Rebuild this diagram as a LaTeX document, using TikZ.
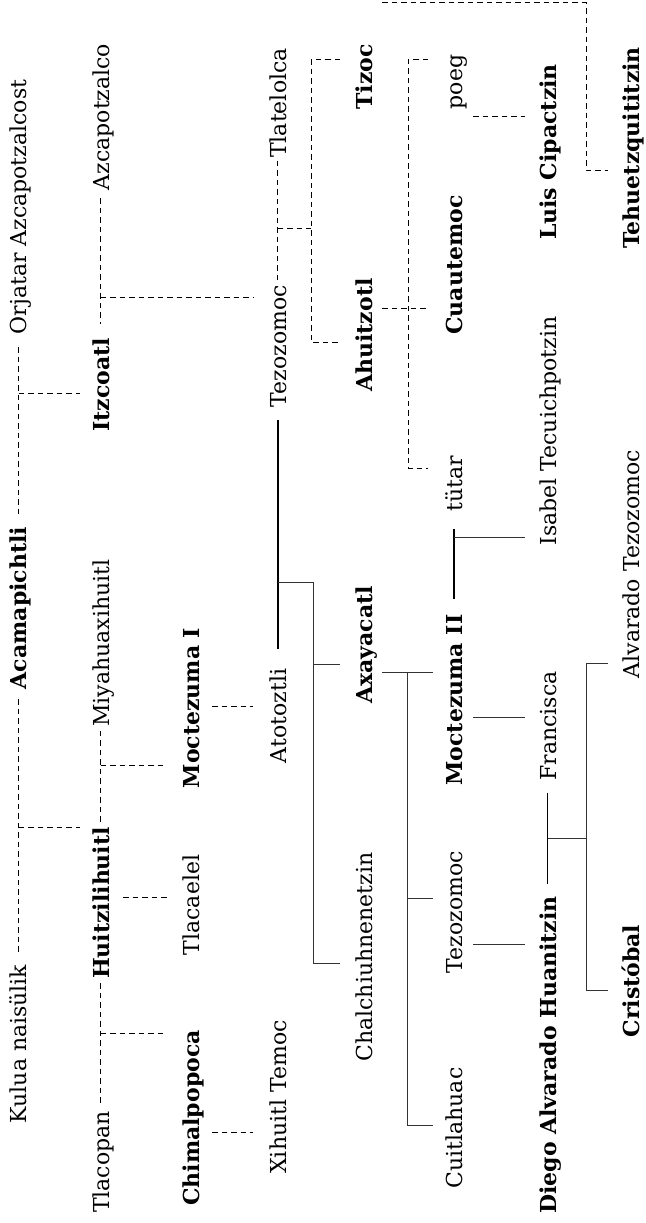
\documentclass[tikz,border=0pt]{standalone}
\usepackage{fontspec}
\setmainfont{DejaVu Serif}
\usetikzlibrary{calc}
\begin{document}
\begin{tikzpicture}[x=1pt,y=-1pt,
  nm/.style={rotate=90, anchor=base, inner sep=0pt, text height=16.7pt, text depth=0pt, font=\fontsize{22}{26}\selectfont},
  bd/.style={nm, font=\fontsize{22}{26}\selectfont\bfseries},
  dsh/.style={draw=black, line width=1pt, dash pattern=on 5.5pt off 4pt},
  sld/.style={draw=black!80, line width=1pt},
  thk/.style={draw=black, line width=1.9pt},
  med/.style={draw=black, line width=1.3pt}]
\fill[white] (0,0) rectangle (645,1223);
\useasboundingbox (0,0) rectangle (645,1223);
% column A
\node[nm] (orj) at (27,207) {Orjatar Azcapotzalcost};
\node[bd] (aca) at (27,608) {Acamapichtli};
\node[nm] (kul) at (27,1044) {Kulua naisülik};
% column B
\node[nm] (azc) at (109,117) {Azcapotzalco};
\node[bd] (itz) at (109,385) {Itzcoatl};
\node[nm] (miy) at (109,643) {Miyahuaxihuitl};
\node[bd] (hui) at (109,903) {Huitzilihuitl};
\node[nm] (tlp) at (109,1162) {Tlacopan};
% column C
\node[bd] (mo1) at (199,708) {Moctezuma I};
\node[nm] (tlc) at (199,905) {Tlacaelel};
\node[bd] (chi) at (199,1118) {Chimalpopoca};
% column D
\node[nm] (tlt) at (286,103) {Tlatelolca};
\node[nm] (tez) at (286,346) {Tezozomoc};
\node[nm] (ato) at (286,716) {Atotoztli};
\node[nm] (xih) at (286,1097) {Xihuitl Temoc};
% column E
\node[bd] (tiz) at (372,77) {Tizoc};
\node[bd] (ahu) at (372,335) {Ahuitzotl};
\node[bd] (axa) at (372,645) {Axayacatl};
\node[nm] (cha) at (372,957) {Chalchiuhnenetzin};
% column F
\node[nm] (poe) at (462,82) {poeg};
\node[bd] (cua) at (462,265) {Cuautemoc};
\node[nm] (tut) at (462,484) {tütar};
\node[bd] (mo2) at (462,700) {Moctezuma II};
\node[nm] (tz2) at (462,912) {Tezozomoc};
\node[nm] (cui) at (462,1128) {Cuitlahuac};
% column G
\node[bd] (lui) at (556,152) {Luis Cipactzin};
\node[nm] (isa) at (556,431) {Isabel Tecuichpotzin};
\node[nm] (fra) at (556,726) {Francisca};
\node[bd] (die) at (556,1055) {Diego Alvarado Huanitzin};
% column H
\node[bd] (teh) at (639,148) {Tehuetzquititzin};
\node[nm] (alv) at (639,564) {Alvarado Tezozomoc};
\node[bd] (cri) at (639,981) {Cristóbal};

% bracket corners
\coordinate (bA) at (311,60);  \coordinate (bB) at (311,342);
\coordinate (cA) at (408,60);  \coordinate (cB) at (408,468);
\coordinate (tA) at (586,3);   \coordinate (tB) at (586,170);
\coordinate (dA) at (313,582); \coordinate (dB) at (313,963);
\coordinate (eA) at (407,672); \coordinate (eB) at (407,1125);
\coordinate (fA) at (586,663); \coordinate (fB) at (586,990);

% dashed couples and children
\draw[dsh, shorten <=13pt, shorten >=10pt] (orj.west) -- (aca.east);
\draw[dsh, shorten >=12pt] (orj.west |- 0,393) -- (itz.north |- 0,393);
\draw[dsh, shorten <=10pt, shorten >=10pt] (aca.west) -- (kul.east);
\draw[dsh, shorten >=12pt] (aca.west |- 0,827) -- (hui.north |- 0,827);
\draw[dsh, shorten <=8pt, shorten >=14pt] (azc.west) -- (itz.east);
\draw[dsh, shorten >=16pt] (azc.west |- 0,297) -- (tez.north |- 0,297);
\draw[dsh, shorten <=4pt, shorten >=4pt] (miy.west) -- (hui.east);
\draw[dsh, shorten >=15pt] (miy.west |- 0,765) -- (mo1.north |- 0,765);
\draw[dsh, shorten <=4pt, shorten >=6pt] (hui.west) -- (tlp.east);
\draw[dsh, shorten >=15pt] (hui.west |- 0,1033) -- (chi.north |- 0,1033);
\draw[dsh, shorten <=14pt, shorten >=15pt] (hui.south |- 0,897) -- (tlc.north |- 0,897);
\draw[dsh, shorten <=13pt, shorten >=16pt] (mo1.south |- 0,706) -- (ato.north |- 0,706);
\draw[dsh, shorten <=13pt, shorten >=16pt] (chi.south |- 0,1132) -- (xih.north |- 0,1132);
\draw[dsh, shorten <=3pt, shorten >=4pt] (tlt.west) -- (tez.east);
\draw[dsh] (tlt.west |- 0,228) -- (bA |- 0,228);
\draw[dsh, shorten <=15pt, shorten >=15pt] (tiz.north |- bA) -- (bA) -- (bB) -- (ahu.north |- bB);
\draw[dsh, shorten <=10pt, shorten >=17pt] (ahu.south |- 0,308) -- (cua.north |- 0,308);
\draw[dsh, shorten <=17pt, shorten >=17pt] (poe.north |- cA) -- (cA) -- (cB) -- (tut.north |- cB);
\draw[dsh, shorten <=10pt, shorten >=14pt] (tiz.south |- tA) -- (tA) -- (tB) -- (teh.north |- tB);
\draw[dsh, shorten <=11pt, shorten >=14pt] (poe.south |- 0,116) -- (lui.north |- 0,116);

% solid couples and children
\draw[thk, shorten <=13pt, shorten >=20pt] (tez.west) -- (ato.east);
\draw[sld] (tez.west |- dA) -- (dA) -- (dB) -- ([xshift=-15pt]cha.north |- dB);
\draw[sld] (dA |- 0,664) -- ([xshift=-15pt]axa.north |- 0,664);
\draw[sld, shorten <=10pt, shorten >=12pt] (axa.south |- eA) -- (mo2.north |- eA);
\draw[sld] (eA) -- (eB) -- ([xshift=-12pt]cui.north |- eB);
\draw[sld] (eA |- 0,898) -- ([xshift=-12pt]tz2.north |- 0,898);
\draw[thk, shorten <=17pt, shorten >=15pt] (tut.west) -- (mo2.east);
\draw[sld, shorten >=14pt] (tut.west |- 0,537) -- (isa.north |- 0,537);
\draw[sld, shorten <=11pt, shorten >=14pt] (mo2.south |- 0,717) -- (fra.north |- 0,717);
\draw[sld, shorten <=11pt, shorten >=14pt] (tz2.south |- 0,944) -- (die.north |- 0,944);
\draw[med, shorten <=12pt, shorten >=12pt] (fra.west) -- (die.east);
\draw[sld] (fra.west |- 0,838) -- (fA |- 0,838);
\draw[sld, shorten <=14pt, shorten >=14pt] (alv.north |- fA) -- (fA) -- (fB) -- (cri.north |- fB);
\end{tikzpicture}
\end{document}
